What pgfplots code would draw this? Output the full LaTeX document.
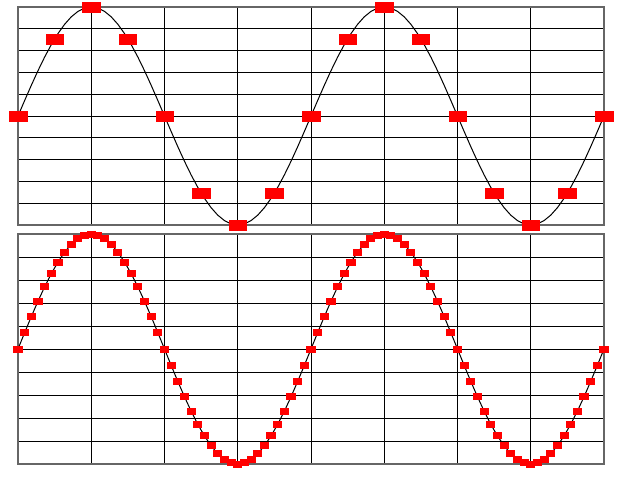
\documentclass[border=0pt]{standalone}
\usepackage{pgfplots}
\usepackage{pgfplotstable}
\pgfplotsset{compat=1.18}
\pgfplotstableread{
x y
0 0
1 0.14231
2 0.28173
3 0.41542
4 0.54064
5 0.65486
6 0.75575
7 0.84125
8 0.90963
9 0.95949
10 0.98982
11 1
12 0.98982
13 0.95949
14 0.90963
15 0.84125
16 0.75575
17 0.65486
18 0.54064
19 0.41542
20 0.28173
21 0.14231
22 0
23 -0.14231
24 -0.28173
25 -0.41542
26 -0.54064
27 -0.65486
28 -0.75575
29 -0.84125
30 -0.90963
31 -0.95949
32 -0.98982
33 -1
34 -0.98982
35 -0.95949
36 -0.90963
37 -0.84125
38 -0.75575
39 -0.65486
40 -0.54064
41 -0.41542
42 -0.28173
43 -0.14231
44 0
45 0.14231
46 0.28173
47 0.41542
48 0.54064
49 0.65486
50 0.75575
51 0.84125
52 0.90963
53 0.95949
54 0.98982
55 1
56 0.98982
57 0.95949
58 0.90963
59 0.84125
60 0.75575
61 0.65486
62 0.54064
63 0.41542
64 0.28173
65 0.14231
66 0
67 -0.14231
68 -0.28173
69 -0.41542
70 -0.54064
71 -0.65486
72 -0.75575
73 -0.84125
74 -0.90963
75 -0.95949
76 -0.98982
77 -1
78 -0.98982
79 -0.95949
80 -0.90963
81 -0.84125
82 -0.75575
83 -0.65486
84 -0.54064
85 -0.41542
86 -0.28173
87 -0.14231
88 0
}\fine
\pgfplotstableread{
x y
0 0
5.5 0.70711
11 1
16.5 0.70711
22 0
27.5 -0.70711
33 -1
38.5 -0.70711
44 0
49.5 0.70711
55 1
60.5 0.70711
66 0
71.5 -0.70711
77 -1
82.5 -0.70711
88 0
}\coarse
\pgfplotsset{
  myaxis/.style={
    scale only axis, width=586pt,
    xmin=0, xmax=88, ymin=-1, ymax=1,
    xtick={0,11,...,88}, ytick={-1,-0.8,...,1.01},
    xticklabels={}, yticklabels={},
    major tick length=0pt,
    grid=major,
    grid style={black, line width=0.9pt},
    axis line style={draw=black!60, line width=1.4pt},
    clip=false,
  }
}
\begin{document}
\begin{tikzpicture}[x=1pt,y=1pt]
\useasboundingbox (0,0) rectangle (624,480);
\begin{axis}[myaxis, height=218pt, at={(18pt,255pt)}, anchor=south west]
\addplot[black, line width=1pt, no marks] table[x=x,y=y] {\fine};
\addplot[only marks, mark=square*, mark size=5pt,
  mark options={xscale=1.75, fill=red, draw=red}] table[x=x,y=y] {\coarse};
\end{axis}
\begin{axis}[myaxis, height=230pt, at={(18pt,16pt)}, anchor=south west]
\addplot[black, line width=1pt, mark=square*, mark size=3pt,
  mark options={xscale=1.35, fill=red, draw=red, solid}] table[x=x,y=y] {\fine};
\end{axis}
\end{tikzpicture}
\end{document}
